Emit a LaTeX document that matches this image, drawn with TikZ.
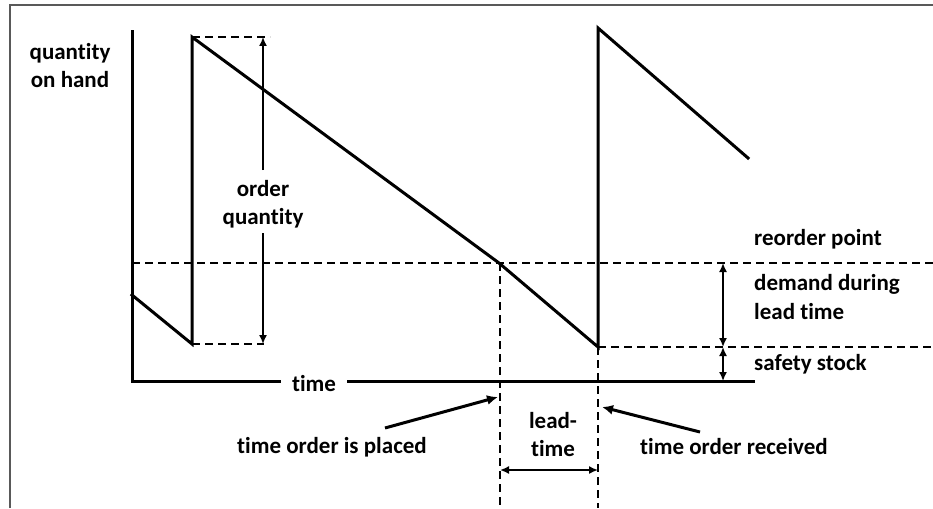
\documentclass[tikz,border=0pt]{standalone}
\usepackage{fontspec}
\setmainfont[Ligatures={NoCommon,NoRequired,NoContextual}]{Carlito}
\usetikzlibrary{arrows.meta}
\begin{document}
\begin{tikzpicture}[x=1pt,y=-1pt,
  heavy/.style={line width=3pt, line join=miter, line cap=rect},
  dashline/.style={line width=2.4pt, dash pattern=on 8pt off 5pt},
  dim/.style={line width=1.6pt, {Latex[length=9pt,width=8pt]}-{Latex[length=9pt,width=8pt]}},
  dimone/.style={line width=1.6pt, -{Latex[length=9pt,width=8pt]}},
  lbl/.style={font=\fontsize{23}{28}\selectfont\bfseries, inner sep=0pt, align=center},
  lbll/.style={font=\fontsize{23}{29}\selectfont\bfseries, inner sep=0pt, align=left, anchor=west},
  ptr/.style={line width=3pt, -{Latex[length=11pt,width=10pt]}}]
\useasboundingbox (0,0) rectangle (933,508);
% frame
\coordinate (fbl) at (10,508);
\coordinate (ftl) at (10,5);
\coordinate (ftr) at (933,5);
\draw[line width=2pt, color=black!65] (fbl) -- (ftl) -- (ftr);

% key points
\coordinate (ytop) at (132,32);
\coordinate (origin) at (132,381);
\coordinate (xend) at (753,381);
\coordinate (s0) at (132,295);
\coordinate (b1) at (192,344);
\coordinate (t1) at (192,37);
\coordinate (rop) at (499,263);
\coordinate (b2) at (598,347);
\coordinate (t2) at (598,28);
\coordinate (e3) at (748,158);

% dashed reference lines
\coordinate (ropL) at (132,263);
\coordinate (ropR) at (933,263);
\coordinate (ssR) at (933,347);
\coordinate (t1R) at (270,37);
\coordinate (b1R) at (264,344);
\coordinate (vd1) at (500,508);
\coordinate (vd1t) at (500,263);
\coordinate (vd2) at (598,508);
\draw[dashline] (ropL) -- (ropR);
\draw[dashline] (b2) -- (ssR);
\draw[dashline] (t1) -- (t1R);
\draw[dashline] (b1) -- (b1R);
\draw[dashline] (vd1t) -- (vd1);
\draw[dashline] (b2) -- (vd2);

% axes
\draw[heavy] (ytop) -- (origin) -- (xend);
\node[lbl, fill=white, inner xsep=11pt, inner ysep=4pt] (timelbl) at (314,384) {time};

% inventory sawtooth
\draw[heavy] (s0) -- (b1) -- (t1) -- (rop) -- (b2) -- (t2) -- (e3);

% order quantity
\node[lbl] (oq) at (263,204) {order\\quantity};
\coordinate (oqtop) at (263,37);
\coordinate (oqbot) at (263,344);
\coordinate (oqa) at (263,170);
\coordinate (oqb) at (263,233);
\draw[dimone] (oqa) -- (oqtop);
\draw[dimone] (oqb) -- (oqbot);

% right side dimensions
\coordinate (dA) at (723,263);
\coordinate (dB) at (723,347);
\coordinate (dC) at (723,381);
\draw[dim] (dA) -- (dB);
\draw[dim] (dB) -- (dC);
\node[lbll] (rp) at (754,239) {reorder point};
\node[lbll] (ddlt) at (754,297) {demand during\\lead time};
\node[lbll] (ss) at (754,364) {safety stock};

% lead time
\coordinate (ltA) at (500,470);
\coordinate (ltB) at (598,470);
\draw[dim] (ltA) -- (ltB);
\node[lbl] (lt) at (553,435) {lead-\\time};

% y label
\node[lbl] (qoh) at (70,66) {quantity\\on hand};

% pointers
\node[lbl] (top) at (332,447) {time order is placed};
\node[lbl] (tor) at (734,447) {time order received};
\coordinate (p1s) at (385,428);
\coordinate (p1e) at (498,397);
\coordinate (p2s) at (700,432);
\coordinate (p2e) at (602,407);
\draw[ptr] (p1s) -- (p1e);
\draw[ptr] (p2s) -- (p2e);
\end{tikzpicture}
\end{document}
